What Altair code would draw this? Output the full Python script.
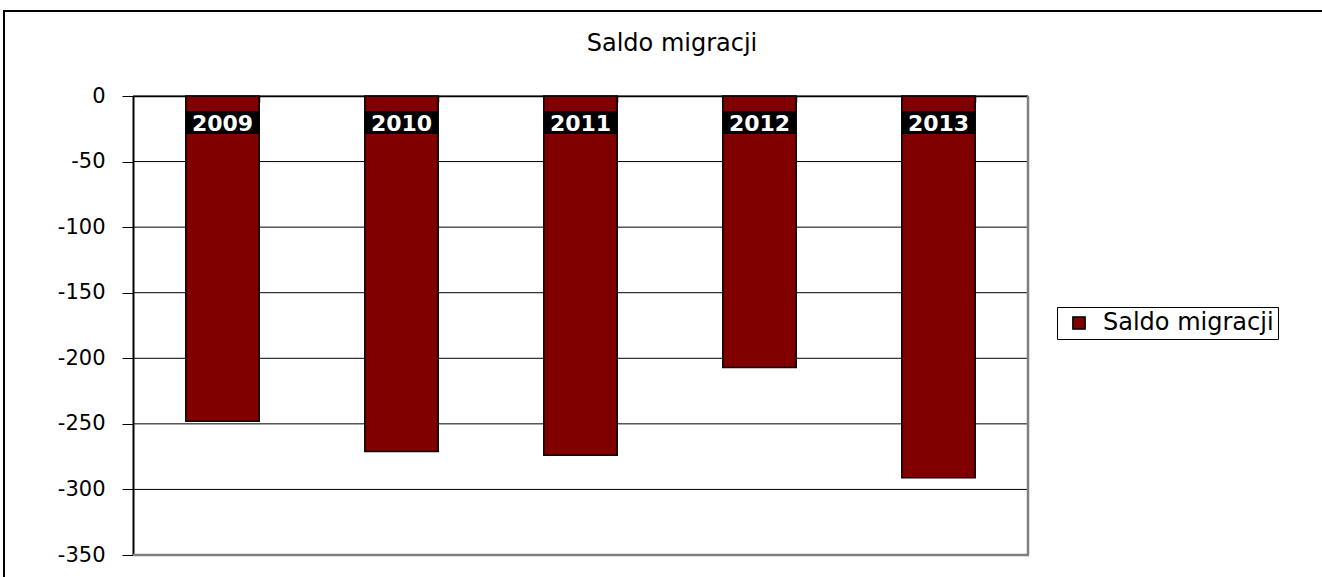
import altair as alt
import pandas as pd

years = ["2009", "2010", "2011", "2012", "2013"]
values = [-248, -271, -274, -207, -291]
series = "Saldo migracji"
title_text = "Saldo migracji"
y_ticks = [0, -50, -100, -150, -200, -250, -300, -350]
grid_lines = [0, -50, -100, -150, -200, -250, -300]

df = pd.DataFrame({"year": years, "value": values, "series": [series] * len(years)})
grid_df = pd.DataFrame({"g": grid_lines})
one = pd.DataFrame({"a": [0]})

FONT = "DejaVu Sans"
W, H = 895, 459
yscale = alt.Scale(domain=[-350, 0], nice=False, zero=False)

xenc = alt.X("year:N", sort=years,
             scale=alt.Scale(paddingInner=0.59, paddingOuter=0.295),
             axis=alt.Axis(orient="bottom", offset=-H, labels=False, title=None,
                           tickBand="extent", tickSize=6, tickColor="black", tickWidth=1.5,
                           domainColor="black", domainWidth=1.5, grid=False))

grid = alt.Chart(grid_df).mark_rule(color="black", strokeWidth=1).encode(
    y=alt.Y("g:Q", scale=yscale))

bars = alt.Chart(df).mark_bar(stroke="black", strokeWidth=1.5).encode(
    x=xenc,
    y=alt.Y("value:Q", scale=yscale,
            axis=alt.Axis(values=y_ticks, title=None, labelFontSize=21, labelFont=FONT,
                          labelExpr="datum.value < 0 ? '-' + abs(datum.value) : '' + datum.value",
                          labelColor="black", tickSize=11, tickColor="black", tickWidth=1,
                          labelPadding=17, domainColor="black", domainWidth=2, grid=False)),
    color=alt.Color("series:N", scale=alt.Scale(range=["#800000"]),
                    legend=alt.Legend(title=None, orient="none", legendX=924, legendY=211,
                                      strokeColor="black", padding=4,
                                      labelFontSize=24, labelFont=FONT, labelColor="black",
                                      labelOffset=12, symbolOffset=6, labelLimit=400,
                                      symbolType="square", symbolSize=150,
                                      symbolStrokeColor="black", symbolStrokeWidth=1.5)),
)

label_bg = alt.Chart(df).mark_rect(color="black").encode(
    x=alt.X("year:N", sort=years),
    y=alt.value(15), y2=alt.value(38),
)

labels = alt.Chart(df).mark_text(color="white", fontWeight="bold", fontSize=22,
                                 font=FONT, baseline="middle").encode(
    x=alt.X("year:N", sort=years),
    y=alt.value(28),
    text="year:N",
)

title = alt.Chart(one).mark_text(fontSize=24, font=FONT, color="black",
                                 baseline="alphabetic", align="center").encode(
    x=alt.value(539), y=alt.value(-45), text=alt.value(title_text))

border_right = alt.Chart(one).mark_rule(color="#808080", strokeWidth=2.5).encode(
    x=alt.value(W), y=alt.value(0), y2=alt.value(H))
border_bottom = alt.Chart(one).mark_rule(color="#808080", strokeWidth=2.5).encode(
    x=alt.value(0), x2=alt.value(W + 1), y=alt.value(H))

frame_left = alt.Chart(one).mark_rule(color="black", strokeWidth=2).encode(
    x=alt.value(-129), y=alt.value(-86), y2=alt.value(H + 40))
frame_top = alt.Chart(one).mark_rule(color="black", strokeWidth=2).encode(
    x=alt.value(-130), x2=alt.value(1300), y=alt.value(-85))

chart = alt.layer(grid, bars, label_bg, labels, title, border_right, border_bottom,
                  frame_left, frame_top).properties(
    width=W, height=H,
    autosize=alt.AutoSizeParams(type="none"),
    padding={"left": 133, "top": 96, "right": 294, "bottom": 22},
).configure_view(stroke=None).configure(background="white")

chart.save("out.html", embed_options={"renderer": "svg", "actions": False})
